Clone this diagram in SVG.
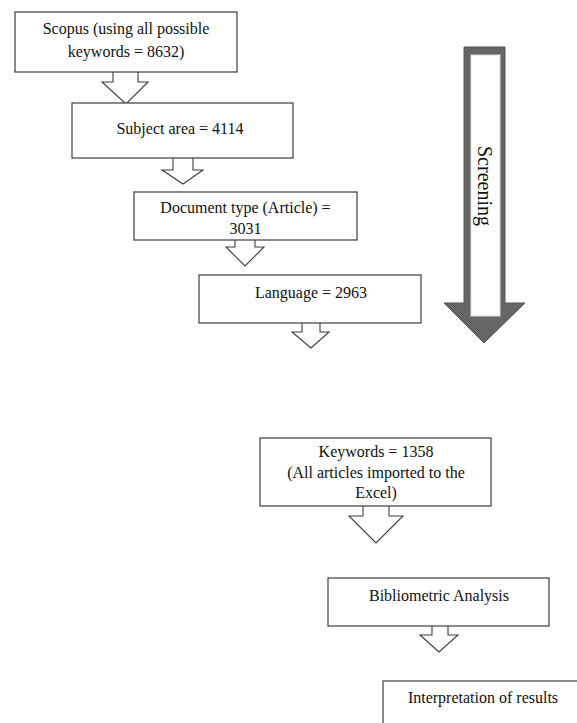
<svg xmlns="http://www.w3.org/2000/svg" width="577" height="723" viewBox="0 0 577 723">
<style>
.box{fill:#fff;stroke:#3c3c3c;stroke-width:1.2}
.arr{fill:#fff;stroke:#3c3c3c;stroke-width:1.1;stroke-linejoin:miter}
.t{font-family:"Liberation Serif","Times New Roman",serif;font-size:16px;fill:#111;text-anchor:middle}
</style>
<rect width="577" height="723" fill="#fff"/>
<g id="connectors">
<path class="arr" d="M113,72 V82 H102 L126,104 L148,82 H138 V72"/>
<path class="arr" d="M173,158 V170 H162 L183,184 L203,170 H193 V158"/>
<path class="arr" d="M235,240 V247 H226 L245,266 L264,247 H255 V240"/>
<path class="arr" d="M302,323 V332 H292 L311,348 L329,332 H320 V323"/>
<path class="arr" d="M363,506 V516 H349 L376,543 L403,516 H389 V506"/>
<path class="arr" d="M432,626 V635 H420 L439,652 L458,635 H448 V626"/>
</g>
<g id="screening">
<path d="M464,47 H505 V303 H525 L484,343 L444,303 H464 Z" fill="#666" stroke="#555" stroke-width="1"/>
<rect x="471" y="55" width="29" height="261" fill="#fff" stroke="#ddd" stroke-width="1"/>
<text class="t" x="485" y="193" transform="rotate(90 485 186)" style="font-size:20px">Screening</text>
</g>
<g id="n1">
<rect class="box" x="15" y="12" width="222" height="60"/>
<text class="t" x="126" y="34">Scopus (using all possible</text>
<text class="t" x="126" y="57">keywords = 8632)</text>
</g>
<g id="n2">
<rect class="box" x="72" y="103" width="221" height="55"/>
<text class="t" x="180" y="134">Subject area = 4114</text>
</g>
<g id="n3">
<rect class="box" x="134" y="192" width="223" height="48"/>
<text class="t" x="245.5" y="213">Document type (Article) =</text>
<text class="t" x="245.5" y="234">3031</text>
</g>
<g id="n4">
<rect class="box" x="199" y="275" width="222" height="48"/>
<text class="t" x="311" y="298">Language = 2963</text>
</g>
<g id="n5">
<rect class="box" x="260" y="438" width="231" height="68"/>
<text class="t" x="376" y="457">Keywords = 1358</text>
<text class="t" x="376" y="478">(All articles imported to the</text>
<text class="t" x="376" y="498">Excel)</text>
</g>
<g id="n6">
<rect class="box" x="328" y="578" width="221" height="48"/>
<text class="t" x="439" y="601">Bibliometric Analysis</text>
</g>
<g id="n7">
<rect class="box" x="383" y="681" width="200" height="60"/>
<text class="t" x="483" y="703">Interpretation of results</text>
</g>
</svg>
